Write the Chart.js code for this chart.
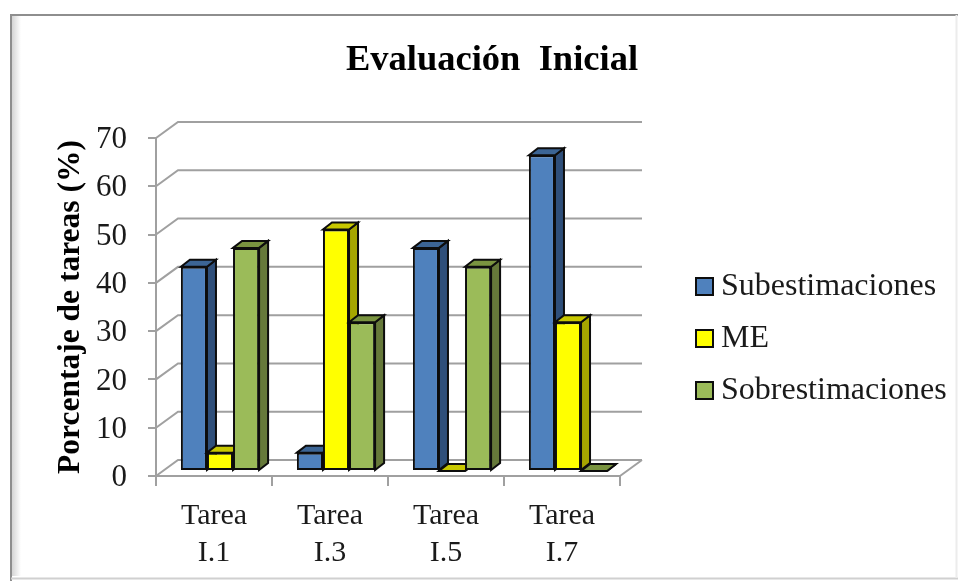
<!DOCTYPE html>
<html>
<head>
<meta charset="utf-8">
<script src="https://cdn.jsdelivr.net/npm/chart.js@4"></script>
<style>
    html, body { margin: 0; padding: 0; background: #fff; }
    #wrap { width: 958px; height: 581px; }
</style>
</head>
<body>
<div id="wrap"><canvas id="myChart" width="958" height="581"></canvas></div>
<script>
const categories = [['Tarea', 'I.1'], ['Tarea', 'I.3'], ['Tarea', 'I.5'], ['Tarea', 'I.7']];
const subestimaciones = [42.3, 3.8, 46.2, 65.4];
const me = [3.8, 50, 0, 30.8];
const sobrestimaciones = [46.2, 30.8, 42.3, 0];

const serif = '"Liberation Serif", "Times New Roman", serif';
const gridGrey = '#a0a0a0';
const outline = '#0d0d0d';

// front, top and side colour of each series
const faces = [
    { front: '#4f81bd', top: '#3c6595', side: '#2f4f7a' },
    { front: '#ffff00', top: '#c8c800', side: '#a6a600' },
    { front: '#9bbb59', top: '#7a9440', side: '#66793a' }
];

const wall = { dx: 22, dy: -16 };    // front plane -> back wall
const barPlane = { dx: 6, dy: -5 };  // front plane -> front of the bars
const barDepth = { dx: 9, dy: -7 };

function polygon(ctx, pts, fill) {
    ctx.beginPath();
    pts.forEach((p, i) => i ? ctx.lineTo(p[0], p[1]) : ctx.moveTo(p[0], p[1]));
    ctx.closePath();
    ctx.fillStyle = fill;
    ctx.fill();
    ctx.strokeStyle = outline;
    ctx.lineWidth = 2;
    ctx.stroke();
}

const bars3d = {
    id: 'bars3d',
    beforeLayout(chart) {
        // legend keeps the whole strip right of the plot
        const legend = chart.legend;
        if (!legend.wrapped) {
            const fit = legend.fit;
            legend.fit = function () {
                fit.call(this);
                this.width = 338;
            };
            legend.wrapped = true;
        }
    },
    afterUpdate(chart) {
        chart.legend.left = 675;
        chart.legend.top = 251;
    },
    beforeDraw(chart) {
        const ctx = chart.ctx;
        ctx.save();
        ctx.fillStyle = '#fff';
        ctx.fillRect(0, 0, chart.width, chart.height);
        const shade = ctx.createLinearGradient(12, 0, 21, 0);
        shade.addColorStop(0, '#d4d4d4');
        shade.addColorStop(1, '#ffffff');
        ctx.fillStyle = shade;
        ctx.fillRect(12, 16, 9, 560);
        ctx.strokeStyle = '#8e8e8e';
        ctx.lineWidth = 2;
        ctx.beginPath();
        ctx.moveTo(11, 581);
        ctx.lineTo(11, 15);
        ctx.lineTo(958, 15);
        ctx.stroke();
        ctx.strokeStyle = '#d0d0d0';
        ctx.beginPath();
        ctx.moveTo(11, 578.5);
        ctx.lineTo(958, 578.5);
        ctx.stroke();
        ctx.strokeStyle = '#ececec';
        ctx.beginPath();
        ctx.moveTo(956.5, 15);
        ctx.lineTo(956.5, 578);
        ctx.stroke();
        ctx.restore();
    },
    beforeDatasetsDraw(chart) {
        const { ctx, chartArea, scales } = chart;
        ctx.save();
        ctx.strokeStyle = gridGrey;
        ctx.lineWidth = 2;
        ctx.beginPath();
        scales.y.ticks.forEach(t => {
            const y = scales.y.getPixelForValue(t.value);
            ctx.moveTo(chartArea.left, y);
            ctx.lineTo(chartArea.left + wall.dx, y + wall.dy);
            ctx.lineTo(chartArea.right + wall.dx, y + wall.dy);
        });
        ctx.moveTo(chartArea.right, chartArea.bottom);
        ctx.lineTo(chartArea.right + wall.dx, chartArea.bottom + wall.dy);
        ctx.stroke();
        ctx.restore();
    },
    beforeDatasetDraw() {
        return false; // painted below, left to right, so the side faces overlap correctly
    },
    afterDatasetsDraw(chart) {
        const ctx = chart.ctx;
        ctx.save();
        ctx.translate(barPlane.dx, barPlane.dy);
        categories.forEach((c, i) => {
            faces.forEach((face, d) => {
                const bar = chart.getDatasetMeta(d).data[i];
                const { x, y, base, width } = bar.getProps(['x', 'y', 'base', 'width'], true);
                const l = x - width / 2, r = x + width / 2;
                const dx = barDepth.dx, dy = barDepth.dy;
                polygon(ctx, [[r, y], [r + dx, y + dy], [r + dx, base + dy], [r, base]], face.side);
                polygon(ctx, [[l, y], [l + dx, y + dy], [r + dx, y + dy], [r, y]], face.top);
                if (base - y > 0.5) bar.draw(ctx);
            });
        });
        ctx.restore();
    },
    afterDraw(chart) {
        const ctx = chart.ctx;
        const legend = chart.legend;
        const pad = legend.options.labels.padding;
        ctx.save();
        legend.legendHitBoxes.forEach((box, i) => {
            const x = legend.left + pad + 1;
            const y = legend.top + pad + i * (box.height + pad) + box.height / 2 - 9;
            ctx.fillStyle = faces[i].front;
            ctx.fillRect(x, y, 17, 17);
            ctx.strokeStyle = outline;
            ctx.lineWidth = 2;
            ctx.strokeRect(x, y, 17, 17);
        });
        ctx.restore();
    }
};

function barSeries(label, data, i) {
    return {
        label: label,
        data: data,
        backgroundColor: faces[i].front,
        borderColor: outline,
        borderWidth: 2,
        borderSkipped: false,
        categoryPercentage: 0.674,
        barPercentage: 1
    };
}

document.addEventListener('DOMContentLoaded', function () {
    new Chart(document.getElementById('myChart'), {
        type: 'bar',
        data: {
            labels: categories,
            datasets: [
                barSeries('Subestimaciones', subestimaciones, 0),
                barSeries('ME', me, 1),
                barSeries('Sobrestimaciones', sobrestimaciones, 2)
            ]
        },
        plugins: [bars3d],
        options: {
            responsive: false,
            animation: false,
            layout: { padding: { left: 26 } },
            scales: {
                x: {
                    afterFit: s => { s.height = 105; },
                    grid: {
                        drawOnChartArea: false,
                        color: gridGrey,
                        lineWidth: 2,
                        tickLength: 10
                    },
                    border: { color: gridGrey, width: 2 },
                    ticks: {
                        autoRotate: false,
                        maxRotation: 0,
                        minRotation: 0,
                        autoSkip: false,
                        padding: 12,
                        color: '#1a1a1a',
                        font: { family: serif, size: 30, lineHeight: 1.23 }
                    }
                },
                y: {
                    min: 0,
                    max: 70,
                    afterFit: s => { s.width = 130; },
                    grid: {
                        drawOnChartArea: false,
                        color: gridGrey,
                        lineWidth: 2,
                        tickLength: 8
                    },
                    border: { color: gridGrey, width: 2 },
                    ticks: {
                        stepSize: 10,
                        padding: 21,
                        labelOffset: 2,
                        color: '#1a1a1a',
                        font: { family: serif, size: 31 }
                    },
                    title: {
                        display: true,
                        text: 'Porcentaje de tareas (%)',
                        color: '#000',
                        padding: { top: 27, bottom: 0 },
                        font: { family: serif, size: 31.5, weight: 'bold', lineHeight: 1.15 }
                    }
                }
            },
            plugins: {
                title: {
                    display: true,
                    text: 'Evaluación  Inicial',
                    color: '#000',
                    padding: { top: 40, bottom: 56 },
                    font: { family: serif, size: 36.5, weight: 'bold', lineHeight: 1.15 }
                },
                legend: {
                    position: 'right',
                    align: 'start',
                    labels: {
                        boxWidth: 10,
                        boxHeight: 10,
                        padding: 20,
                        color: '#1a1a1a',
                        font: { family: serif, size: 32 },
                        generateLabels: chart => chart.data.datasets.map((ds, i) => ({
                            text: ds.label,
                            fontColor: '#1a1a1a',
                            fillStyle: 'transparent',
                            strokeStyle: 'transparent',
                            lineWidth: 0,
                            datasetIndex: i
                        }))
                    }
                },
                tooltip: { enabled: false }
            }
        }
    });
});
</script>
</body>
</html>
